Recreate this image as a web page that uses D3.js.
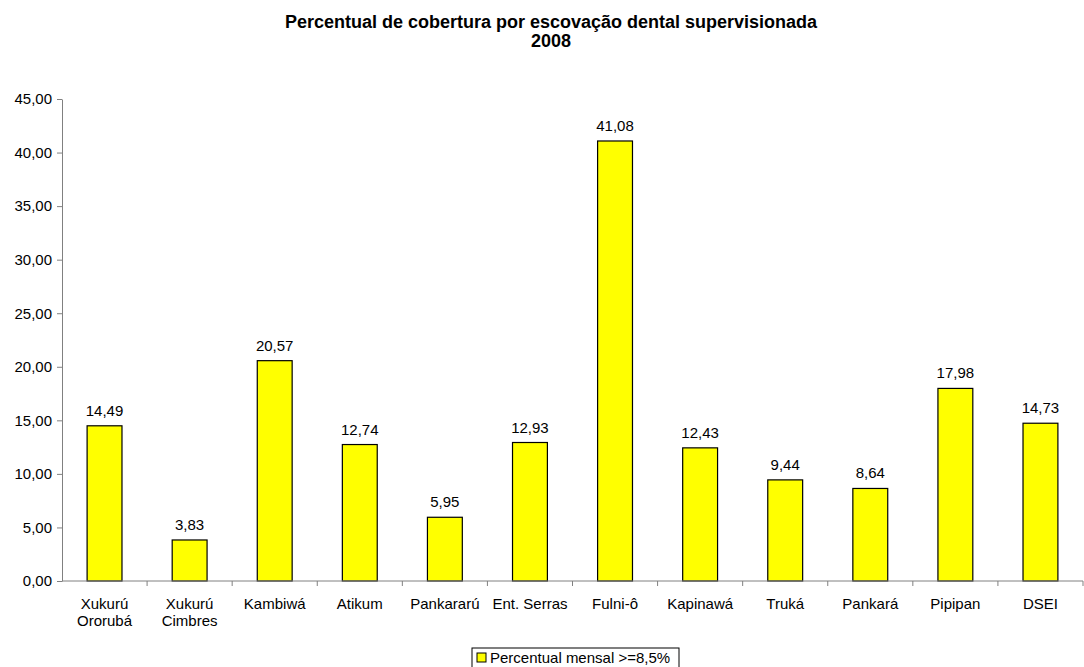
<!DOCTYPE html>
<html>
<head>
<meta charset="utf-8">
<script src="https://cdn.jsdelivr.net/npm/d3@7"></script>
<style>
  html, body { margin: 0; padding: 0; background: #fff; }
  svg { display: block; font-family: "Liberation Sans", Arial, sans-serif; }
</style>
</head>
<body>
<svg id="chart" width="1084" height="667"></svg>
<script>
// Coverage by supervised tooth brushing, 2008
const categories = [
  ["Xukurú", "Ororubá"], ["Xukurú", "Cimbres"], ["Kambiwá"], ["Atikum"],
  ["Pankararú"], ["Ent. Serras"], ["Fulni-ô"], ["Kapinawá"],
  ["Truká"], ["Pankará"], ["Pipipan"], ["DSEI"]
];
const values = [14.49, 3.83, 20.57, 12.74, 5.95, 12.93, 41.08, 12.43, 9.44, 8.64, 17.98, 14.73];
const yTicks = [0, 5, 10, 15, 20, 25, 30, 35, 40, 45];
const seriesName = "Percentual mensal >=8,5%";
const titleLines = ["Percentual de cobertura por escovação dental supervisionada", "2008"];

const svg = d3.select("#chart");
const plot = { left: 62, right: 1083, top: 99, bottom: 581 };
const fmt = v => v.toFixed(2).replace(".", ",");
const FONT = "Liberation Sans, Arial, sans-serif";

const x = d3.scaleBand()
  .domain(d3.range(categories.length))
  .range([plot.left, plot.right])
  .paddingInner(0.59)
  .paddingOuter(0.295);
const xOuter = d3.scaleBand().domain(d3.range(categories.length)).range([plot.left, plot.right]);
const y = d3.scaleLinear().domain([0, 45]).range([plot.bottom, plot.top]);

// Title
svg.append("g").selectAll("text").data(titleLines).join("text")
  .attr("x", 551).attr("y", (d, i) => 28 + i * 19)
  .attr("text-anchor", "middle")
  .attr("font-size", 18).attr("font-weight", "bold")
  .text(d => d);

// Y axis
const yAxis = svg.append("g")
  .attr("transform", `translate(${plot.left},0)`)
  .call(d3.axisLeft(y).tickValues(yTicks).tickFormat(fmt).tickSize(5).tickSizeOuter(0));
yAxis.select(".domain").attr("stroke", "#808080");
yAxis.selectAll(".tick line").attr("stroke", "#808080");
yAxis.selectAll(".tick text").attr("font-size", 15).attr("fill", "#000")
  .attr("font-family", FONT).attr("x", -10);

// Bars
svg.append("g").selectAll("rect").data(values).join("rect")
  .attr("x", (d, i) => x(i))
  .attr("y", d => y(d))
  .attr("width", x.bandwidth())
  .attr("height", d => y(0) - y(d))
  .attr("fill", "#ffff00")
  .attr("stroke", "#000")
  .attr("stroke-width", 1.2);

// Value labels
svg.append("g").selectAll("text").data(values).join("text")
  .attr("x", (d, i) => x(i) + x.bandwidth() / 2)
  .attr("y", d => y(d) - 10)
  .attr("text-anchor", "middle")
  .attr("font-size", 15)
  .text(fmt);

// X axis
const xAxisG = svg.append("g").attr("transform", `translate(0,${plot.bottom})`);
xAxisG.append("line").attr("x1", plot.left).attr("x2", plot.right)
  .attr("stroke", "#808080");
xAxisG.selectAll("line.tick").data(d3.range(1, categories.length + 1)).join("line")
  .attr("class", "tick")
  .attr("x1", i => plot.left + i * xOuter.step()).attr("x2", i => plot.left + i * xOuter.step())
  .attr("y1", 0).attr("y2", 5).attr("stroke", "#808080");
const xl = xAxisG.selectAll("text").data(categories).join("text")
  .attr("text-anchor", "middle")
  .attr("font-size", 15)
  .attr("transform", (d, i) => `translate(${x(i) + x.bandwidth() / 2},28)`);
xl.selectAll("tspan").data(d => d).join("tspan")
  .attr("x", 0).attr("dy", (d, i) => i === 0 ? 0 : 17)
  .text(d => d);

// Legend
const lg = svg.append("g").attr("transform", "translate(472,648)");
lg.append("rect").attr("width", 207).attr("height", 22)
  .attr("fill", "#fff").attr("stroke", "#000").attr("stroke-width", 1);
lg.append("rect").attr("x", 5).attr("y", 5).attr("width", 9).attr("height", 9)
  .attr("fill", "#ffff00").attr("stroke", "#000");
lg.append("text").attr("x", 18).attr("y", 15).attr("font-size", 15).text(seriesName);
</script>
</body>
</html>
